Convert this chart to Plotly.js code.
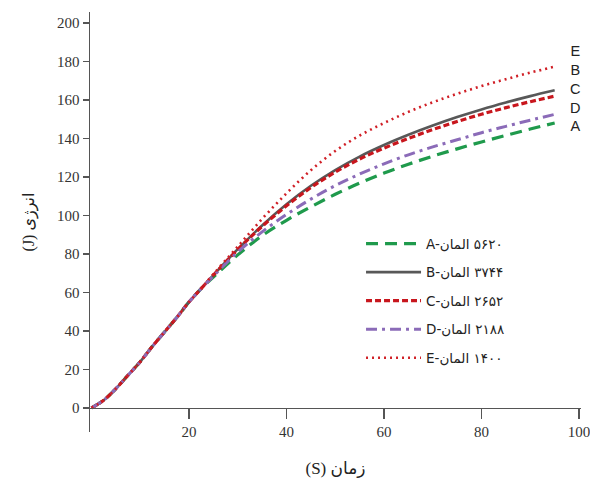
<!DOCTYPE html>
<html>
<head>
<meta charset="utf-8">
<script src="https://cdn.plot.ly/plotly-3.0.1.min.js"></script>
<style>html,body{margin:0;padding:0;background:#fff;}#chart{width:590px;height:497px;}</style>
</head>
<body>
<div id="chart"></div>
<script>
// time (S)
var timeS = [0, 2.5, 5, 7.5, 10, 12.5, 15, 17.5, 20, 22.5, 25, 30, 35, 40, 45, 50, 55, 60, 65, 70, 75, 80, 85, 90, 95];
var common = [0, 4, 10, 17, 24, 32, 39.5, 47, 55, 62];
var energyA = common.concat([68, 79.5, 89.5, 97.5, 104.5, 111, 116.8, 122, 126.6, 130.8, 134.6, 138.2, 141.6, 144.9, 148]);
var energyB = common.concat([69, 82.5, 94.8, 105.8, 115.4, 123.6, 130.6, 136.6, 141.9, 146.7, 151.1, 155.1, 158.7, 162, 165]);
var energyC = common.concat([69, 82.3, 94.3, 105, 114.5, 122.5, 129.3, 135, 140, 144.6, 148.8, 152.6, 156, 159.1, 162]);
var energyD = common.concat([68.5, 81, 91.5, 100.5, 108.5, 115.5, 121.5, 126.8, 131.5, 135.6, 139.3, 143, 146.3, 149.5, 152.5]);
var energyE = common.concat([69.5, 83.8, 98.2, 111.5, 123.5, 133.5, 141.5, 148, 153.8, 158.8, 163.2, 167.2, 170.8, 174.2, 177.3]);

var seriesNames = [
  "A-\u0627\u0644\u0645\u0627\u0646\u200E \u06F5\u06F6\u06F2\u06F0",
  "B-\u0627\u0644\u0645\u0627\u0646\u200E \u06F3\u06F7\u06F4\u06F4",
  "C-\u0627\u0644\u0645\u0627\u0646\u200E \u06F2\u06F6\u06F5\u06F2",
  "D-\u0627\u0644\u0645\u0627\u0646\u200E \u06F2\u06F1\u06F8\u06F8",
  "E-\u0627\u0644\u0645\u0627\u0646\u200E \u06F1\u06F4\u06F0\u06F0"
];
var endLabels = ["E", "B", "C", "D", "A"];
var xTickVals = [20, 40, 60, 80, 100];
var yTickVals = [0, 20, 40, 60, 80, 100, 120, 140, 160, 180, 200];

var styles = [
  {color: "#1f9a4c", dash: "12px,7px", width: 3.2},
  {color: "#585858", dash: "solid", width: 2.6},
  {color: "#c8161d", dash: "6px,3px", width: 3.2},
  {color: "#8b6bb8", dash: "11px,5px,3px,5px", width: 3},
  {color: "#d01f26", dash: "2px,4px", width: 2.6}
];
var ys = [energyA, energyB, energyC, energyD, energyE];
var traces = ys.map(function (y, i) {
  return {
    x: timeS, y: y, type: "scatter", mode: "lines", name: seriesNames[i],
    legendgroup: "g" + i,
    line: {color: styles[i].color, dash: styles[i].dash, width: styles[i].width, shape: "spline", smoothing: 1}
  };
});

var annotations = [{
  text: endLabels.join("<br>"), xref: "paper", yref: "paper", x: 0.988, y: 0.818,
  xanchor: "center", yanchor: "middle", showarrow: false,
  font: {family: "Liberation Sans Narrow, Arial Narrow, Liberation Sans, sans-serif", size: 14.5, color: "#222"}
}];

var layout = {
  width: 590, height: 497,
  margin: {l: 90, r: 9, t: 12, b: 65},
  paper_bgcolor: "#fff", plot_bgcolor: "#fff",
  showlegend: true,
  legend: {
    x: 0.552, y: 0.485, xanchor: "left", yanchor: "top",
    bgcolor: "rgba(0,0,0,0)", tracegroupgap: 8, itemwidth: 55,
    font: {family: "DejaVu Sans, sans-serif", size: 13.5, color: "#222"}
  },
  xaxis: {
    range: [-0.3, 100.4], anchor: "free", position: 0.0573,
    tickvals: xTickVals, ticks: "outside", ticklen: 10, tickwidth: 1.5, tickcolor: "#555",
    ticklabeloverflow: "allow",
    showline: true, linecolor: "#555", linewidth: 1.5,
    showgrid: false, zeroline: false,
    tickfont: {family: "Liberation Serif, serif", size: 15, color: "#333"},
    title: {text: "(S) \u0632\u0645\u0627\u0646", standoff: 22,
      font: {family: "Liberation Serif, DejaVu Sans, serif", size: 17, color: "#222"}}
  },
  yaxis: {
    range: [-12.5, 205.7],
    tickvals: yTickVals, ticks: "outside", ticklen: 6, tickwidth: 1.5, tickcolor: "#555",
    showline: true, linecolor: "#555", linewidth: 1.5,
    showgrid: false, zeroline: false,
    tickfont: {family: "Liberation Serif, serif", size: 15, color: "#333"},
    title: {text: "(J) \u0627\u0646\u0631\u0698\u06CC", standoff: 18,
      font: {family: "Liberation Serif, DejaVu Sans, serif", size: 16, color: "#222"}}
  },
  annotations: annotations
};

Plotly.newPlot("chart", traces, layout, {displayModeBar: false, staticPlot: true});
</script>
</body>
</html>
